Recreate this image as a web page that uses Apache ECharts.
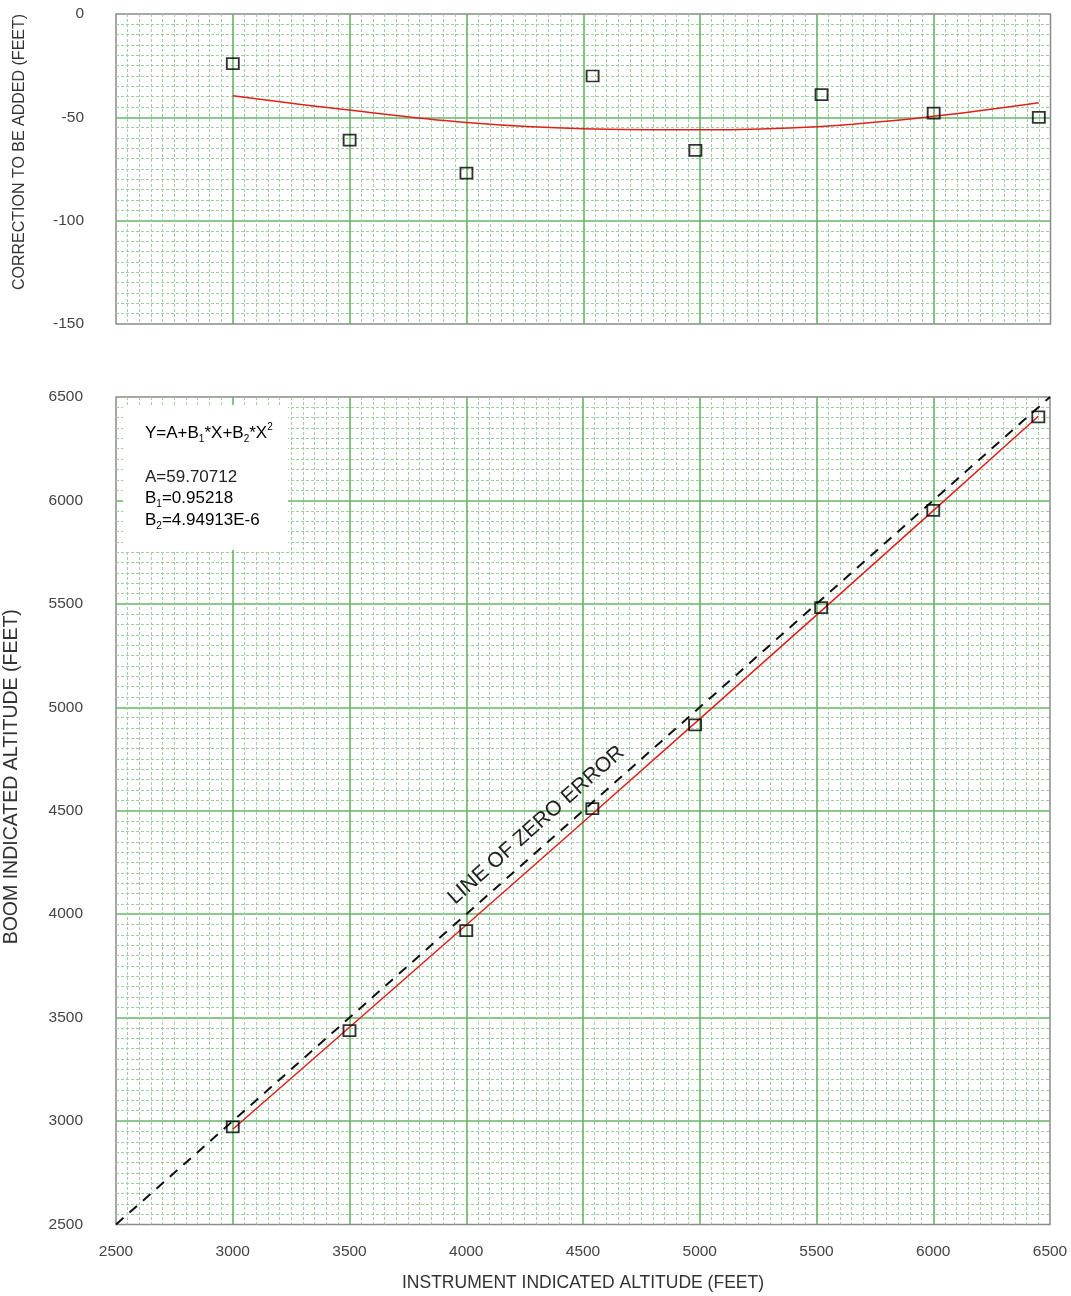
<!DOCTYPE html>
<html><head><meta charset="utf-8">
<script src="https://cdn.jsdelivr.net/npm/echarts/dist/echarts.min.js"></script>
<style>html,body{margin:0;padding:0;background:#fff}#c{width:1071px;height:1296px}</style>
</head><body><div id="c"></div>
<script>
// ---- data ----
const instrumentAlt = [3000, 3500, 4000, 4540, 4980, 5520, 6000, 6450];
const correction   = [-24, -61, -77, -30, -66, -39, -48, -50];
const boomAlt      = [2972, 3437, 3921, 4510, 4915, 5482, 5952, 6404];
const fitX          = [3000, 3500, 4000, 4500, 5000, 5500, 6000, 6450];
const fitCorrection = [-39.5, -46.5, -52.5, -55.5, -56, -54.5, -49.5, -43];
const fitBoom       = [2960.5, 3453.5, 3947.5, 4444.5, 4944, 5445.5, 5950.5, 6407];
const zeroErrorX = [2500, 6500];
const zeroErrorY = [2500, 6500];
const xTicks = [2500, 3000, 3500, 4000, 4500, 5000, 5500, 6000, 6500];
const corrTicks = [-150, -100, -50, 0];
const boomTicks = [2500, 3000, 3500, 4000, 4500, 5000, 5500, 6000, 6500];
const xTitle = 'INSTRUMENT INDICATED ALTITUDE (FEET)';
const corrTitle = 'CORRECTION TO BE ADDED (FEET)';
const boomTitle = 'BOOM INDICATED ALTITUDE (FEET)';
const zeroLabel = 'LINE OF ZERO ERROR';
const zeroLabelAt = [4300, 4430];

const pair = (a, b) => a.map((v, i) => [v, b[i]]);
const FONT = '"Liberation Sans", Arial, sans-serif';
const label = { color: '#444', fontSize: 15.5, fontFamily: FONT, padding: [0, 0, 7, 0], formatter: v => String(v) };

function valAxis(ticks, grid, extra) {
  return Object.assign({
    type: 'value', gridIndex: grid,
    min: ticks[0], max: ticks[ticks.length - 1], interval: ticks[1] - ticks[0],
    axisLine: { show: false }, axisTick: { show: false },
    minorTick: { show: false, splitNumber: 10 },
    splitLine: { show: true, showMinLine: false, showMaxLine: false, lineStyle: { color: '#66b466', width: 1.6, opacity: 1 } },
    minorSplitLine: { show: true, lineStyle: { color: '#9fd09f', width: 1, type: [3, 2] } },
    axisLabel: label
  }, extra);
}

const chart = echarts.init(document.getElementById('c'), null, { renderer: 'canvas' });
const marker = { color: 'transparent', borderColor: '#000', borderWidth: 1.8 };

chart.setOption({
  animation: false,
  backgroundColor: '#fff',
  grid: [
    { left: 116, top: 14, width: 934.5, height: 310, show: true, borderColor: '#8a8a8a', borderWidth: 1.5, backgroundColor: 'transparent', containLabel: false, outerBoundsMode: 'none' },
    { left: 116, top: 397, width: 934, height: 827.5, show: true, borderColor: '#8a8a8a', borderWidth: 1.5, backgroundColor: 'transparent', containLabel: false, outerBoundsMode: 'none' }
  ],
  xAxis: [
    valAxis(xTicks, 0, { axisLabel: { show: false } }),
    valAxis(xTicks, 1, {
      axisLabel: Object.assign({}, label, { margin: 19, padding: 0 }),
      name: xTitle, nameLocation: 'middle', nameGap: 50,
      nameTextStyle: { color: '#333', fontSize: 17.5, fontFamily: FONT }
    })
  ],
  yAxis: [
    valAxis(corrTicks, 0, {
      axisLabel: Object.assign({}, label, { margin: 32 }),
      name: corrTitle, nameLocation: 'middle', nameGap: 88,
      nameTextStyle: { color: '#333', fontSize: 16, fontFamily: FONT, padding: [0, 0, 0, 34] }
    }),
    valAxis(boomTicks, 1, {
      axisLabel: Object.assign({}, label, { margin: 33 }),
      name: boomTitle, nameLocation: 'middle', nameGap: 94,
      nameTextStyle: { color: '#333', fontSize: 19.5, fontFamily: FONT, padding: [0, 0, 0, 68] }
    })
  ],
  series: [
    { type: 'line', xAxisIndex: 0, yAxisIndex: 0, data: pair(fitX, fitCorrection), smooth: 0.4,
      symbol: 'none', lineStyle: { color: '#e0201c', width: 1.5 }, z: 3 },
    { type: 'scatter', xAxisIndex: 0, yAxisIndex: 0, data: pair(instrumentAlt, correction),
      symbol: 'rect', symbolSize: [12, 11], itemStyle: marker, z: 4 },
    { type: 'line', xAxisIndex: 1, yAxisIndex: 1, data: pair(zeroErrorX, zeroErrorY),
      symbol: 'none', lineStyle: { color: '#111', width: 2, type: [10, 8] }, z: 3 },
    { type: 'line', xAxisIndex: 1, yAxisIndex: 1, data: pair(fitX, fitBoom),
      symbol: 'none', lineStyle: { color: '#e0201c', width: 1.5 }, z: 3 },
    { type: 'scatter', xAxisIndex: 1, yAxisIndex: 1, data: pair(instrumentAlt, boomAlt),
      symbol: 'rect', symbolSize: [12, 11], itemStyle: marker, z: 4 }
  ]
});

const p1 = chart.convertToPixel({ xAxisIndex: 1, yAxisIndex: 1 }, [zeroErrorX[0], zeroErrorY[0]]);
const p2 = chart.convertToPixel({ xAxisIndex: 1, yAxisIndex: 1 }, [zeroErrorX[1], zeroErrorY[1]]);
const ang = Math.atan2(p1[1] - p2[1], p2[0] - p1[0]);
const lp = chart.convertToPixel({ xAxisIndex: 1, yAxisIndex: 1 }, zeroLabelAt);
const txt = { fontSize: 17, fontFamily: FONT, fill: '#222', verticalAlign: 'middle' };
const rich = {
  m: { fontSize: 17, fontFamily: FONT, color: '#222', lineHeight: 22 },
  s: { fontSize: 10, fontFamily: FONT, color: '#222', lineHeight: 11, verticalAlign: 'bottom' },
  p: { fontSize: 10, fontFamily: FONT, color: '#222', lineHeight: 12, verticalAlign: 'top' }
};
chart.setOption({
  graphic: [
    { type: 'rect', shape: { x: 123, y: 405, width: 165, height: 145 }, style: { fill: '#fff' }, z: 5 },
    { type: 'text', x: 145, y: 433, z: 6, style: { text: '{m|Y=A+B}{s|1}{m|*X+B}{s|2}{m|*X}{p|2}', rich: rich, verticalAlign: 'middle' } },
    { type: 'text', x: 145, y: 477, z: 6, style: Object.assign({ text: 'A=59.70712' }, txt) },
    { type: 'text', x: 145, y: 498, z: 6, style: { text: '{m|B}{s|1}{m|=0.95218}', rich: rich, verticalAlign: 'middle' } },
    { type: 'text', x: 145, y: 520, z: 6, style: { text: '{m|B}{s|2}{m|=4.94913E-6}', rich: rich, verticalAlign: 'middle' } },
    { type: 'text', x: lp[0], y: lp[1], rotation: ang, z: 6,
      style: { text: zeroLabel, fontSize: 21, fontFamily: FONT, fill: '#222', align: 'center', verticalAlign: 'middle' } }
  ]
});
</script></body></html>
